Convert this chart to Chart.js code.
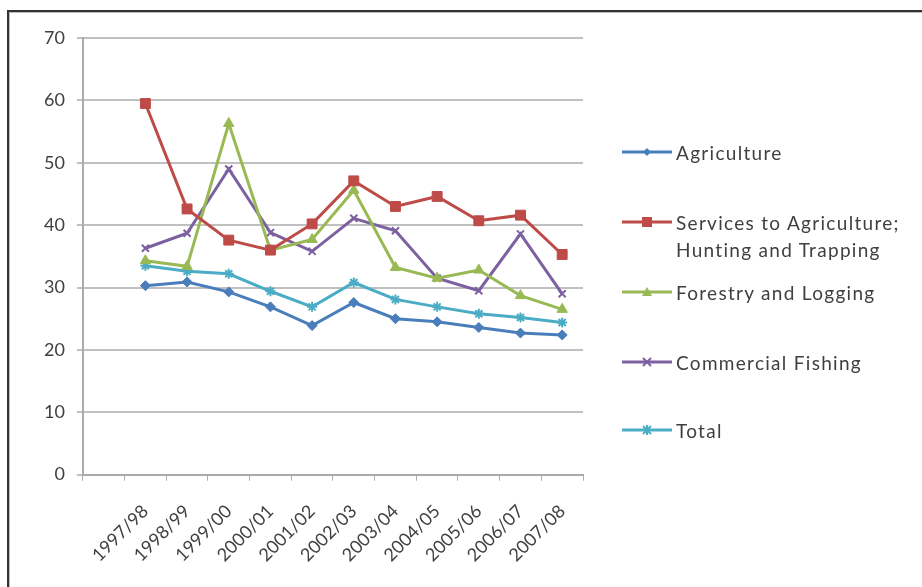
<!DOCTYPE html>
<html>
<head>
<meta charset="utf-8">
<script src="https://cdn.jsdelivr.net/npm/chart.js@4.4.1/dist/chart.umd.min.js"></script>
<style>
  body { margin: 0; background: #fff; }
  #wrap { position: relative; width: 922px; height: 587px; overflow: hidden; }
  #frame { position: absolute; left: 7px; top: 10px; width: 940px; height: 600px;
           border: 2px solid #333; box-shadow: inset 1px 1px 0 #bbb; }
  #chart { position: absolute; left: 0; top: 0; }
  #legend { position: absolute; left: 622px; top: 0; font-family: Lato, "Liberation Sans", sans-serif;
            font-size: 19px; letter-spacing: 1.3px; color: #404040; }
  .item { position: absolute; left: 0; white-space: nowrap; line-height: 27px; }
  .item svg { position: absolute; left: 0; top: 6px; }
  .item span { position: absolute; left: 54px; top: 0; }
</style>
</head>
<body>
<div id="wrap">
  <div id="frame"></div>
  <canvas id="chart" width="922" height="587"></canvas>
  <div id="legend"></div>
</div>
<script>
// categories (Excel chart leaves the first slot empty)
const years = ['1997/98', '1998/99', '1999/00', '2000/01', '2001/02', '2002/03',
               '2003/04', '2004/05', '2005/06', '2006/07', '2007/08'];

const agriculture = [30.3, 30.9, 29.3, 26.9, 23.9, 27.6, 25.0, 24.5, 23.6, 22.7, 22.4];
const services    = [59.5, 42.6, 37.6, 36.0, 40.2, 47.1, 43.0, 44.6, 40.7, 41.6, 35.3];
const forestry    = [34.3, 33.4, 56.3, 36.0, 37.7, 45.6, 33.2, 31.5, 32.8, 28.7, 26.5];
const fishing     = [36.3, 38.7, 49.0, 38.8, 35.8, 41.1, 39.1, 31.5, 29.5, 38.6, 29.0];
const total       = [33.5, 32.6, 32.2, 29.4, 26.9, 30.8, 28.1, 26.9, 25.8, 25.2, 24.4];

const yTicks = [0, 10, 20, 30, 40, 50, 60, 70];

const series = [
  { label: 'Agriculture', data: agriculture, color: '#4a7ebb', point: 'rectRot', r: 5 },
  { label: ['Services to Agriculture;', 'Hunting and Trapping'], data: services, color: '#be4b48', point: 'rect', r: 7 },
  { label: 'Forestry and Logging', data: forestry, color: '#98b954', point: 'triangle', r: 6 },
  { label: 'Commercial Fishing', data: fishing, color: '#7d60a0', point: 'crossRot', r: 5 },
  { label: 'Total', data: total, color: '#4bacc6', point: 'star', r: 5 },
];

const tickFont = { family: 'Lato', size: 18 };

const ctx = document.getElementById('chart');
new Chart(ctx, {
  type: 'line',
  data: {
    labels: [''].concat(years),
    datasets: series.map(s => ({
      label: Array.isArray(s.label) ? s.label.join(' ') : s.label,
      data: [null].concat(s.data),
      borderColor: s.color,
      backgroundColor: s.color,
      borderWidth: 3,
      pointStyle: s.point,
      pointRadius: s.r,
      pointBorderWidth: s.point === 'crossRot' || s.point === 'star' ? 2 : 1,
      tension: 0
    }))
  },
  options: {
    responsive: false,
    animation: false,
    layout: { padding: { left: 32, top: 38, right: 339, bottom: 1 } },
    plugins: { legend: { display: false }, tooltip: { enabled: false } },
    scales: {
      x: {
        offset: true,
        grid: { display: true, drawOnChartArea: false, offset: true, color: '#aaa', tickLength: 6 },
        border: { color: '#aaa', width: 2 },
        ticks: {
          minRotation: 45, maxRotation: 45, autoSkip: false, padding: 20,
          color: '#404040', font: tickFont
        }
      },
      y: {
        min: 0, max: 70,
        afterBuildTicks: axis => { axis.ticks = yTicks.map(v => ({ value: v })); },
        grid: { color: '#c0c0c0', lineWidth: 2, tickLength: 6 },
        border: { color: '#aaa', width: 2 },
        ticks: { color: '#404040', padding: 12, font: tickFont }
      }
    }
  }
});

// legend
const legendTops = [139, 209, 279, 349, 417];
const legend = document.getElementById('legend');
series.forEach((s, i) => {
  const div = document.createElement('div');
  div.className = 'item';
  div.style.top = legendTops[i] + 'px';
  let marker = '';
  const c = s.color;
  if (s.point === 'rectRot') marker = `<polygon points="25,3 29,7 25,11 21,7" fill="${c}"/>`;
  if (s.point === 'rect') marker = `<rect x="20" y="2" width="10" height="10" fill="${c}"/>`;
  if (s.point === 'triangle') marker = `<polygon points="25,2 30,11 20,11" fill="${c}"/>`;
  if (s.point === 'crossRot') marker = `<path d="M21 3 L29 11 M29 3 L21 11" stroke="${c}" stroke-width="2"/>`;
  if (s.point === 'star') marker = `<path d="M21 3 L29 11 M29 3 L21 11 M25 2 L25 12" stroke="${c}" stroke-width="2"/>`;
  div.innerHTML = `<svg width="50" height="14"><line x1="0" y1="7" x2="50" y2="7" stroke="${c}" stroke-width="3"/>${marker}</svg>` +
    `<span>${Array.isArray(s.label) ? s.label.join('<br>') : s.label}</span>`;
  legend.appendChild(div);
});
</script>
</body>
</html>
